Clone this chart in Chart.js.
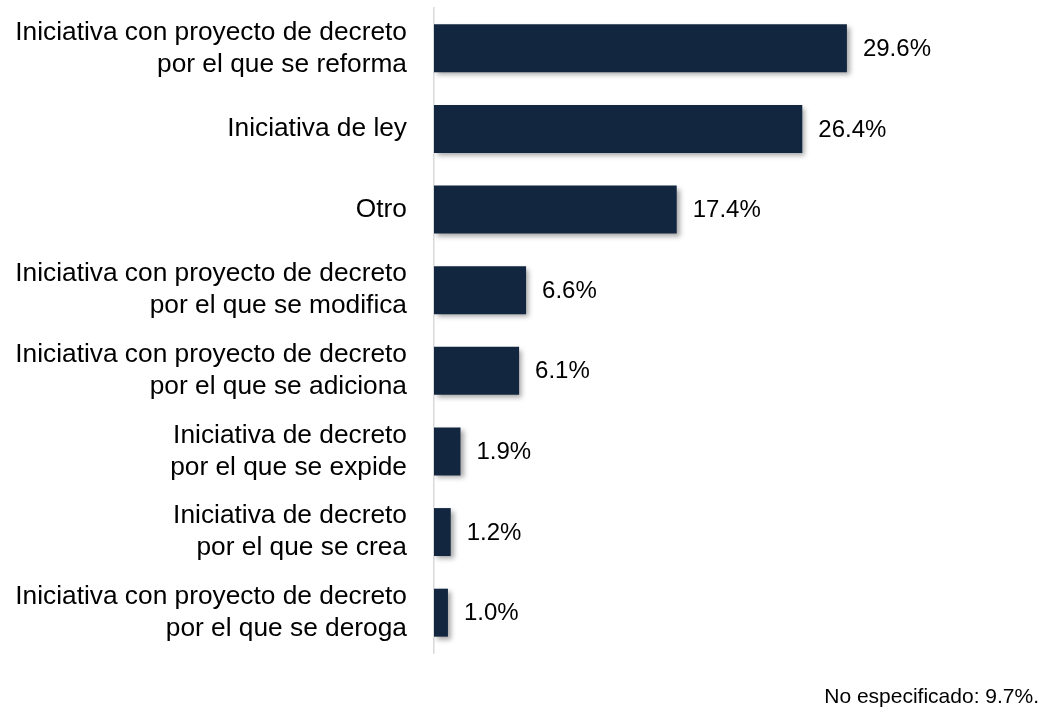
<!DOCTYPE html>
<html>
<head>
<meta charset="utf-8">
<script src="https://cdn.jsdelivr.net/npm/chart.js@4/dist/chart.umd.min.js"></script>
<style>
  html, body { margin: 0; padding: 0; background: #fff; }
  #wrap { width: 1045px; height: 707px; position: relative; }
</style>
</head>
<body>
<div id="wrap"><canvas id="chart"></canvas></div>
<script>
  // Chart data.
  var CATEGORIES = [
    ['Iniciativa con proyecto de decreto', 'por el que se reforma'],
    'Iniciativa de ley',
    'Otro',
    ['Iniciativa con proyecto de decreto', 'por el que se modifica'],
    ['Iniciativa con proyecto de decreto', 'por el que se adiciona'],
    ['Iniciativa de decreto', 'por el que se expide'],
    ['Iniciativa de decreto', 'por el que se crea'],
    ['Iniciativa con proyecto de decreto', 'por el que se deroga']
  ];
  var VALUES = [29.6, 26.4, 17.4, 6.6, 6.1, 1.9, 1.2, 1.0];
  var FOOTNOTE = 'No especificado: 9.7%.';

  var BAR_COLOR = '#132640';
  var TEXT_COLOR = '#000000';
  var FONT = '"Liberation Sans", Arial, Helvetica, sans-serif';

  /**
   * Soft drop shadow behind the bars.
   */
  var shadowPlugin = {
    id: 'barShadow',
    beforeDatasetsDraw: function (chart) {
      var ctx = chart.ctx;
      ctx.save();
      ctx.shadowColor = 'rgba(0, 0, 0, 0.35)';
      ctx.shadowBlur = 5;
      ctx.shadowOffsetX = 3;
      ctx.shadowOffsetY = 3;
    },
    afterDatasetsDraw: function (chart) {
      chart.ctx.restore();
    }
  };

  /**
   * Percentage labels at the end of each bar.
   */
  var valueLabels = {
    id: 'valueLabels',
    afterDatasetsDraw: function (chart) {
      var ctx = chart.ctx;
      var meta = chart.getDatasetMeta(0);
      ctx.save();
      ctx.font = '24px ' + FONT;
      ctx.fillStyle = TEXT_COLOR;
      ctx.textAlign = 'left';
      ctx.textBaseline = 'middle';
      meta.data.forEach(function (bar, i) {
        ctx.fillText(VALUES[i].toFixed(1) + '%', bar.x + 16, bar.y + 1);
      });
      ctx.restore();
    }
  };

  /**
   * Footnote in the bottom-right corner.
   */
  var footnote = {
    id: 'footnote',
    afterDraw: function (chart) {
      var ctx = chart.ctx;
      ctx.save();
      ctx.font = '21px ' + FONT;
      ctx.fillStyle = TEXT_COLOR;
      ctx.textAlign = 'right';
      ctx.textBaseline = 'alphabetic';
      ctx.fillText(FOOTNOTE, 1039, 703);
      ctx.restore();
    }
  };

  new Chart(document.getElementById('chart'), {
    type: 'bar',
    data: {
      labels: CATEGORIES,
      datasets: [{
        data: VALUES,
        backgroundColor: BAR_COLOR,
        borderWidth: 0,
        categoryPercentage: 1,
        barPercentage: 0.595
      }]
    },
    options: {
      indexAxis: 'y',
      responsive: true,
      maintainAspectRatio: false,
      animation: false,
      layout: {
        padding: { top: 8, bottom: 54, left: 0, right: 53 }
      },
      plugins: {
        legend: { display: false },
        tooltip: { enabled: false }
      },
      scales: {
        x: {
          display: false,
          min: 0,
          max: 40
        },
        y: {
          afterFit: function (scale) {
            // Fixed label column; labels sit inside their category band.
            scale.width = 434;
            scale.paddingTop = 0;
            scale.paddingBottom = 0;
          },
          grid: {
            color: 'rgba(0,0,0,0)',
            drawTicks: false
          },
          border: {
            display: true,
            color: '#d9d9d9',
            width: 1.5
          },
          ticks: {
            color: TEXT_COLOR,
            padding: 27,
            font: { family: FONT, size: 26.3, lineHeight: 1.22 }
          }
        }
      }
    },
    plugins: [shadowPlugin, valueLabels, footnote]
  });
</script>
</body>
</html>
